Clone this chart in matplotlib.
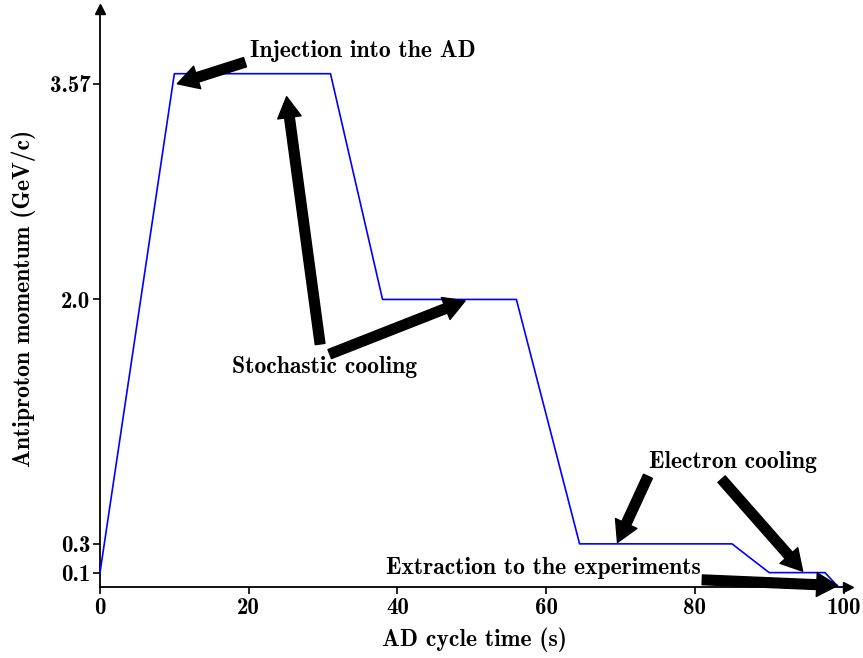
import matplotlib
matplotlib.use("Agg")
import matplotlib.pyplot as plt

plt.rcParams['font.family'] = ['cmb10', 'DejaVu Serif']
plt.rcParams['axes.unicode_minus'] = False

# Cycle data
time_s = [0, 10, 31, 38, 56, 64.5, 85, 90, 97.5, 99.3]
momentum = [0.1, 3.57, 3.57, 2.0, 2.0, 0.3, 0.3, 0.1, 0.1, 0.0]

xticks = [0, 20, 40, 60, 80, 100]
xtick_labels = ["0", "20", "40", "60", "80", "100"]
yticks = [0.1, 0.3, 2.0, 3.5]
ytick_labels = ["0.1", "0.3", "2.0", "3.57"]

# annotations: (text, text position, list of (tail, tip))
annotations = [
    ("Injection into the AD", (20.2, 3.73), [((19.5, 3.65), (10.4, 3.50))]),
    ("Stochastic cooling", (17.7, 1.53), [((29.6, 1.69), (25.1, 3.41)),
                                         ((30.9, 1.62), (49.1, 1.99))]),
    ("Electron cooling", (73.9, 0.87), [((73.7, 0.77), (69.6, 0.31)),
                                       ((83.6, 0.75), (94.5, 0.11))]),
    ("Extraction to the experiments", (38.4, 0.13), [((81.0, 0.05), (99.2, 0.01))]),
]

fig = plt.figure(figsize=(8.63, 6.58), dpi=100)
ax = fig.add_axes([100/863, (658-587)/658, (848-100)/863, (587-9)/658])

ax.plot(time_s, momentum, color='#0000ff', lw=1.2, clip_on=False, zorder=3)

ax.set_xlim(0, 100.6)
ax.set_ylim(0, 4.02)

for s in ['top', 'right']:
    ax.spines[s].set_visible(False)
for s in ['left', 'bottom']:
    ax.spines[s].set_linewidth(1.3)
ax.plot(1, 0, ">k", transform=ax.get_yaxis_transform(), clip_on=False, ms=7)
ax.plot(0, 1, "^k", transform=ax.get_xaxis_transform(), clip_on=False, ms=7)

ax.set_xticks(xticks)
ax.set_xticklabels(xtick_labels)
ax.set_yticks(yticks)
ax.set_yticklabels(ytick_labels)
ax.tick_params(direction='out', length=5, width=1.2, labelsize=16.5, pad=2)

ax.set_xlabel("AD cycle time (s)", fontsize=17, labelpad=6)
ax.set_ylabel("Antiproton momentum (GeV/c)", fontsize=17, labelpad=10)

for text, tpos, arrows in annotations:
    ax.text(tpos[0], tpos[1], text, fontsize=17, ha='left', va='center')
    for tail, tip in arrows:
        ax.annotate("", xy=tip, xytext=tail,
                    arrowprops=dict(facecolor='black', edgecolor='black',
                                    width=7, headwidth=17, headlength=15,
                                    shrink=0.0),
                    annotation_clip=False)

fig.savefig("out.png", dpi=100)
